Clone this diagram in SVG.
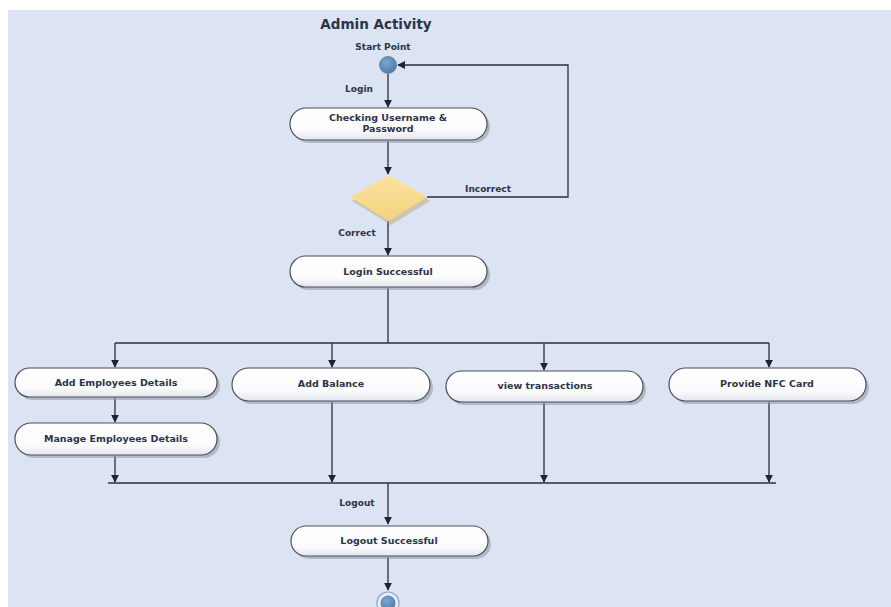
<svg xmlns="http://www.w3.org/2000/svg" width="891" height="607" viewBox="0 0 891 607">
<defs>
<marker id="arr" viewBox="0 0 10 10" refX="9" refY="5" markerWidth="8" markerHeight="8" orient="auto" markerUnits="userSpaceOnUse">
<path d="M0,0 L10,5 L0,10 z" fill="#1e2430"/>
</marker>
<linearGradient id="nodeg" x1="0" y1="0" x2="0" y2="1">
<stop offset="0" stop-color="#ffffff"/>
<stop offset="0.7" stop-color="#fbfbfd"/>
<stop offset="1" stop-color="#e4e6ec"/>
</linearGradient>
<linearGradient id="dg" x1="0" y1="0" x2="0" y2="1">
<stop offset="0" stop-color="#fbe3a0"/>
<stop offset="1" stop-color="#f3d27e"/>
</linearGradient>
<radialGradient id="cg" cx="0.4" cy="0.35" r="0.7">
<stop offset="0" stop-color="#7fa6cc"/>
<stop offset="1" stop-color="#4c79a6"/>
</radialGradient>
</defs>
<style>
.bg{fill:#dce3f2}
.node{fill:url(#nodeg);stroke:#4a4f5a;stroke-width:1.2}
.shadow{fill:#8e95a3;opacity:0.55}
.t{font-family:"DejaVu Sans",Verdana,sans-serif;font-weight:bold;font-size:9.5px;fill:#2b3448;text-anchor:middle}
.lbl{font-family:"DejaVu Sans",Verdana,sans-serif;font-weight:bold;font-size:9px;fill:#2b3448;text-anchor:middle}
.title{font-family:"DejaVu Sans",Verdana,sans-serif;font-weight:bold;font-size:13.5px;fill:#2b3448;text-anchor:middle}
.c{fill:none;stroke:#2a2f3a;stroke-width:1.3}
</style>
<rect x="0" y="0" width="891" height="607" fill="#ffffff"/>
<rect class="bg" x="8" y="10" width="883" height="597"/>

<text class="title" x="376" y="29">Admin Activity</text>

<g id="connectors">
<path class="c" d="M388,74 V107" marker-end="url(#arr)"/>
<path class="c" d="M388,141 V174" marker-end="url(#arr)"/>
<path class="c" d="M427,197 H568 V65 H398" marker-end="url(#arr)"/>
<path class="c" d="M388,221 V255" marker-end="url(#arr)"/>
<path class="c" d="M388,288 V343"/>
<path class="c" d="M115,343 H769"/>
<path class="c" d="M115,343 V367" marker-end="url(#arr)"/>
<path class="c" d="M332,343 V367" marker-end="url(#arr)"/>
<path class="c" d="M544,343 V370" marker-end="url(#arr)"/>
<path class="c" d="M769,343 V367" marker-end="url(#arr)"/>
<path class="c" d="M115,398 V422" marker-end="url(#arr)"/>
<path class="c" d="M115,456 V482" marker-end="url(#arr)"/>
<path class="c" d="M332,402 V482" marker-end="url(#arr)"/>
<path class="c" d="M544,403 V482" marker-end="url(#arr)"/>
<path class="c" d="M769,402 V482" marker-end="url(#arr)"/>
<path class="c" d="M108,483 H776"/>
<path class="c" d="M388,483 V524" marker-end="url(#arr)"/>
<path class="c" d="M388,557 V590" marker-end="url(#arr)"/>
<text class="lbl" x="359" y="92">Login</text>
<text class="lbl" x="488" y="192">Incorrect</text>
<text class="lbl" x="357" y="236">Correct</text>
<text class="lbl" x="357" y="506">Logout</text>
</g>

<g id="start">
<text class="lbl" x="383" y="50">Start Point</text>
<circle cx="388" cy="65" r="8.5" fill="url(#cg)" stroke="#5b7fa5" stroke-width="0.8"/>
</g>

<g id="check">
<rect class="shadow" x="293" y="111" width="197" height="32" rx="16"/>
<rect class="node" x="290" y="108" width="197" height="32" rx="16"/>
<text class="t" x="388" y="121">Checking Username &amp;</text>
<text class="t" x="388" y="132">Password</text>
</g>

<g id="decision">
<path d="M391,178 L430,201 L391,225 L352,201 z" fill="#b9a77a" opacity="0.5"/>
<path d="M389,175 L427,197 L389,221 L350,197 z" fill="url(#dg)"/>
</g>

<g id="loginok">
<rect class="shadow" x="293" y="259" width="197" height="31" rx="15.5"/>
<rect class="node" x="290" y="256" width="197" height="31" rx="15.5"/>
<text class="t" x="388" y="275">Login Successful</text>
</g>

<g id="addemp">
<rect class="shadow" x="18" y="371" width="202" height="29" rx="14.5"/>
<rect class="node" x="15" y="368" width="202" height="29" rx="14.5"/>
<text class="t" x="116" y="386">Add Employees Details</text>
</g>

<g id="addbal">
<rect class="shadow" x="235" y="371" width="198" height="33" rx="16.5"/>
<rect class="node" x="232" y="368" width="198" height="33" rx="16.5"/>
<text class="t" x="331" y="387">Add Balance</text>
</g>

<g id="viewtx">
<rect class="shadow" x="449" y="374" width="197" height="31" rx="15.5"/>
<rect class="node" x="446" y="371" width="197" height="31" rx="15.5"/>
<text class="t" x="545" y="389">view transactions</text>
</g>

<g id="nfc">
<rect class="shadow" x="672" y="371" width="197" height="33" rx="16.5"/>
<rect class="node" x="669" y="368" width="197" height="33" rx="16.5"/>
<text class="t" x="767" y="387">Provide NFC Card</text>
</g>

<g id="manemp">
<rect class="shadow" x="18" y="426" width="202" height="32" rx="16"/>
<rect class="node" x="15" y="423" width="202" height="32" rx="16"/>
<text class="t" x="116" y="442">Manage Employees Details</text>
</g>

<g id="logoutok">
<rect class="shadow" x="294" y="529" width="197" height="30" rx="15"/>
<rect class="node" x="291" y="526" width="197" height="30" rx="15"/>
<text class="t" x="389" y="544">Logout Successful</text>
</g>

<g id="end">
<circle cx="388" cy="603" r="11" fill="#e8ecf6" stroke="#8fa8c8" stroke-width="1.2"/>
<circle cx="388" cy="603" r="7.5" fill="url(#cg)"/>
</g>
</svg>
